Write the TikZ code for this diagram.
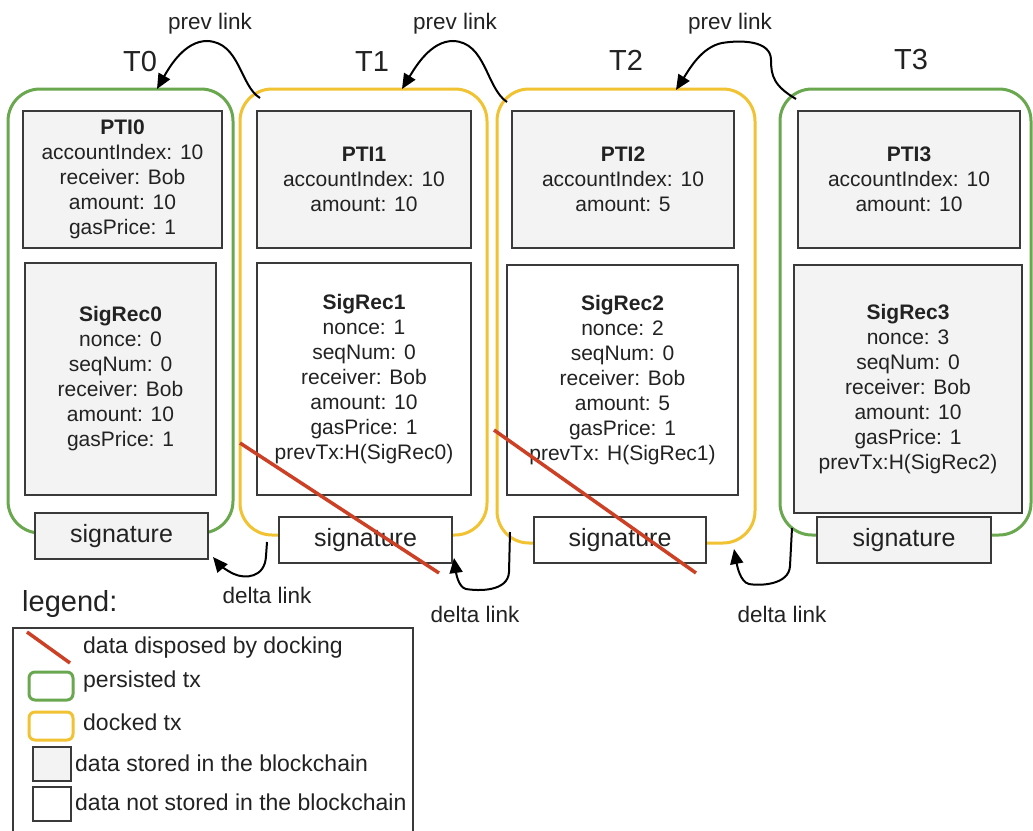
\documentclass[tikz,border=0pt]{standalone}
\usepackage{fontspec}
\setmainfont{Liberation Sans}
\usetikzlibrary{arrows.meta,calc}
\definecolor{pgreen}{HTML}{6AA84F}
\definecolor{dyellow}{HTML}{F1C232}
\definecolor{dred}{HTML}{CC4125}
\definecolor{boxgray}{HTML}{F3F3F3}
\definecolor{edgegray}{HTML}{3A3A3A}
\definecolor{txt}{HTML}{222222}
\newcommand\bodyfont{\fontsize{21}{25}\selectfont}
\newcommand\sigfont{\fontsize{25}{30}\selectfont}
\newcommand\linkfont{\fontsize{22.5}{27}\selectfont}
\newcommand\tfont{\fontsize{29}{34}\selectfont}
\newcommand\legfont{\fontsize{23}{27}\selectfont}
\begin{document}
\begin{tikzpicture}[x=1pt,y=-1pt,
  outer/.style={line width=3pt, rounded corners=32pt, inner sep=0pt},
  databox/.style={draw=edgegray, line width=1.6pt, inner sep=0pt, align=center, font=\bodyfont, text=txt},
  stored/.style={databox, fill=boxgray},
  notstored/.style={databox, fill=white},
  sigbox/.style={draw=edgegray, line width=1.6pt, inner sep=0pt, font=\sigfont, text=txt, minimum height=46pt},
  tlabel/.style={font=\tfont, text=txt},
  linklabel/.style={font=\linkfont, text=txt},
  link/.style={line width=2pt, draw=black, -{Triangle[length=15pt,width=13pt]}},
  strike/.style={draw=dred, line width=3.5pt},
  legtext/.style={font=\legfont, text=txt, anchor=west, inner sep=0pt}
]
\useasboundingbox[fill=white] (0,0) rectangle (1033,830);

% outer transaction boxes
\node[outer, draw=pgreen, minimum width=225pt, minimum height=444pt] (T0box) at (120.5,311) {};
\node[outer, draw=dyellow, minimum width=247pt, minimum height=446pt] (T1box) at (363.5,312) {};
\node[outer, draw=dyellow, minimum width=258pt, minimum height=454pt] (T2box) at (626,316) {};
\node[outer, draw=pgreen, minimum width=251pt, minimum height=446pt] (T3box) at (905.5,312) {};

% labels
\node[tlabel] (T0) at (140,62) {T0};
\node[tlabel] (T1) at (372,62) {T1};
\node[tlabel] (T2) at (626,60) {T2};
\node[tlabel] (T3) at (911,60) {T3};

% PTI boxes
\node[stored, minimum width=199pt, minimum height=137pt] (PTI0) at (122.5,179.5)
  {\textbf{PTI0}\\accountIndex: 10\\receiver: Bob\\amount: 10\\gasPrice: 1};
\node[stored, minimum width=214pt, minimum height=137pt] (PTI1) at (364,179.5)
  {\textbf{PTI1}\\accountIndex: 10\\amount: 10};
\node[stored, minimum width=222pt, minimum height=137pt] (PTI2) at (623,179.5)
  {\textbf{PTI2}\\accountIndex: 10\\amount: 5};
\node[stored, minimum width=222pt, minimum height=137pt] (PTI3) at (909,179.5)
  {\textbf{PTI3}\\accountIndex: 10\\amount: 10};

% SigRec boxes
\node[stored, minimum width=191pt, minimum height=232pt] (SR0) at (120.5,379)
  {\textbf{SigRec0}\\nonce: 0\\seqNum: 0\\receiver: Bob\\amount: 10\\gasPrice: 1};
\node[notstored, minimum width=214pt, minimum height=232pt] (SR1) at (364,379)
  {\textbf{SigRec1}\\nonce: 1\\seqNum: 0\\receiver: Bob\\amount: 10\\gasPrice: 1\\prevTx:H(SigRec0)};
\node[notstored, minimum width=231pt, minimum height=230pt] (SR2) at (622.5,380)
  {\textbf{SigRec2}\\nonce: 2\\seqNum: 0\\receiver: Bob\\amount: 5\\gasPrice: 1\\prevTx: H(SigRec1)};
\node[stored, minimum width=228pt, minimum height=248pt] (SR3) at (908,389)
  {\textbf{SigRec3}\\nonce: 3\\seqNum: 0\\receiver: Bob\\amount: 10\\gasPrice: 1\\prevTx:H(SigRec2)};

% signature boxes
\node[sigbox, fill=boxgray, minimum width=173pt] (S0) at (121.5,536) {signature};
\node[sigbox, fill=white, minimum width=173pt] (S1) at (365.5,540) {signature};
\node[sigbox, fill=white, minimum width=172pt] (S2) at (620,540) {signature};
\node[sigbox, fill=boxgray, minimum width=174pt] (S3) at (904,540) {signature};

% disposed data strikes
\coordinate (x1a) at (240,443); \coordinate (x1b) at (439,573);
\coordinate (x2a) at (494,430); \coordinate (x2b) at (696,573);
\draw[strike] (x1a) -- (x1b);
\draw[strike] (x2a) -- (x2b);

% prev links
\coordinate (p1s) at (260,98);  \coordinate (p1e) at (157,89);
\coordinate (p2s) at (507,102); \coordinate (p2e) at (402,89);
\coordinate (p3s) at (796,99);  \coordinate (p3e) at (676,90);
\draw[link] (p1s) .. controls (240,86) and (240,42) .. (207,41) .. controls (185,41) and (170,66) .. (p1e);
\draw[link] (p2s) .. controls (486,88) and (486,42) .. (453,41) .. controls (431,41) and (416,66) .. (p2e);
\draw[link] (p3s) .. controls (774,86) and (771,76) .. (771,60) .. controls (771,40) and (740,40) .. (722,43) .. controls (702,47) and (690,68) .. (p3e);
\node[linklabel] (pl1) at (210,24) {prev link};
\node[linklabel] (pl2) at (455,24) {prev link};
\node[linklabel] (pl3) at (730,24) {prev link};

% delta links
\coordinate (d1s) at (267,542); \coordinate (d1e) at (213,557);
\coordinate (d2s) at (510,532); \coordinate (d2e) at (454,558);
\coordinate (d3s) at (792,528); \coordinate (d3e) at (734,549);
\draw[link] (d1s) -- (266,556) .. controls (265,578) and (245,579) .. (234,574) .. controls (225,570) and (218,563) .. (d1e);
\draw[link] (d2s) -- (509,572) .. controls (508,592) and (478,591) .. (466,589) .. controls (458,587) and (456,572) .. (d2e);
\draw[link] (d3s) -- (790,566) .. controls (789,585) and (760,586) .. (749,584) .. controls (740,582) and (737,565) .. (d3e);
\node[linklabel] (dl1) at (267,595) {delta link};
\node[linklabel] (dl2) at (475,614) {delta link};
\node[linklabel] (dl3) at (782,614) {delta link};

% legend
\node[font=\tfont, text=txt, anchor=west, inner sep=0pt] (legend) at (22,604) {legend:};
\draw[draw=edgegray, line width=1.6pt] (13,840) -- (13,628) -- (413,628) -- (413,840);
\draw[strike] (27,632) -- (70,663);
\node[legtext] (lg1) at (83,648) {data disposed by docking};
\node[draw=pgreen, line width=3pt, rounded corners=6pt, minimum width=44pt, minimum height=28pt, inner sep=0pt] (lgg) at (51,686) {};
\node[legtext] (lg2) at (83,682) {persisted tx};
\node[draw=dyellow, line width=3pt, rounded corners=6pt, minimum width=44pt, minimum height=28pt, inner sep=0pt] (lgy) at (51,726) {};
\node[legtext] (lg3) at (83,722) {docked tx};
\node[draw=edgegray, fill=boxgray, line width=1.6pt, minimum width=38pt, minimum height=34pt, inner sep=0pt] (lgs) at (52,764) {};
\node[legtext] (lg4) at (75,763) {data stored in the blockchain};
\node[draw=edgegray, fill=white, line width=1.6pt, minimum width=38pt, minimum height=34pt, inner sep=0pt] (lgn) at (52,804) {};
\node[legtext] (lg5) at (75,802) {data not stored in the blockchain};
\end{tikzpicture}
\end{document}
